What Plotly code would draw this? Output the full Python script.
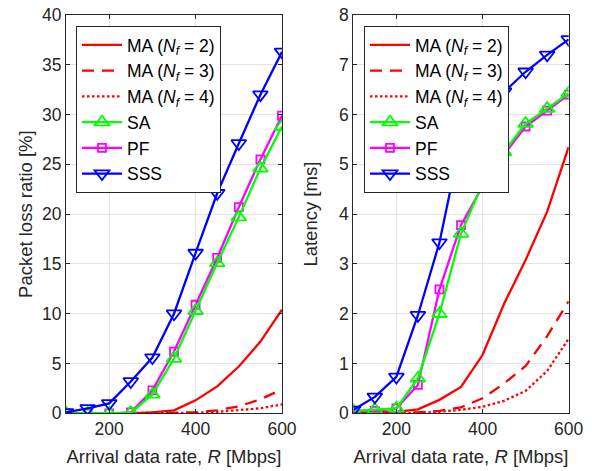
import plotly.graph_objects as go

# ---------------- data ----------------
R = [100, 150, 200, 250, 300, 350, 400, 450, 500, 550, 600]

# Packet loss ratio [%]
loss_ma2 = [0.0, 0.0, 0.0, 0.0, 0.1, 0.3, 1.3, 2.7, 4.7, 7.2, 10.4]
loss_ma3 = [0.0, 0.0, 0.0, 0.0, 0.0, 0.05, 0.1, 0.3, 0.7, 1.4, 2.4]
loss_ma4 = [0.0, 0.0, 0.0, 0.0, 0.0, 0.0, 0.05, 0.15, 0.3, 0.5, 0.9]
loss_sa = [0.0, 0.0, 0.0, 0.05, 1.9, 5.5, 10.3, 15.1, 19.7, 24.6, 28.8]
loss_pf = [0.0, 0.0, 0.0, 0.1, 2.3, 6.2, 10.9, 15.6, 20.7, 25.5, 29.9]
loss_sss = [0.1, 0.5, 1.0, 3.2, 5.6, 10.0, 16.1, 22.1, 27.1, 32.0, 36.3]

# Latency [ms]
lat_ma2 = [0.02, 0.02, 0.03, 0.08, 0.27, 0.53, 1.17, 2.2, 3.08, 4.05, 5.35]
lat_ma3 = [0.0, 0.0, 0.01, 0.02, 0.05, 0.12, 0.3, 0.6, 0.95, 1.55, 2.25]
lat_ma4 = [0.0, 0.0, 0.0, 0.01, 0.03, 0.07, 0.13, 0.25, 0.45, 0.85, 1.5]
lat_sa = [0.05, 0.07, 0.1, 0.7, 2.0, 3.61, 4.62, 5.25, 5.82, 6.12, 6.43]
lat_pf = [0.05, 0.05, 0.1, 0.57, 2.49, 3.78, 4.56, 5.2, 5.76, 6.08, 6.4]
lat_sss = [0.07, 0.33, 0.73, 1.97, 3.43, 5.5, 6.05, 6.46, 6.86, 7.2, 7.51]

names = ["MA (<i>N</i><sub><i>f</i></sub> = 2)", "MA (<i>N</i><sub><i>f</i></sub> = 3)",
         "MA (<i>N</i><sub><i>f</i></sub> = 4)", "SA", "PF", "SSS"]
x_ticks = [200, 400, 600]

RED, GREEN, MAG, BLUE = "#FF0000", "#00FF00", "#FF00FF", "#0000FF"
FONT = "Liberation Sans, Arial, sans-serif"
W, H = 592, 471


def px(x):
    return x / W


def py(y):
    return 1 - y / H


fig = go.Figure()


def add_panel(series, xa, ya, leg):
    ma2, ma3, ma4, sa, pf, sss = series
    specs = [
        (ma2, names[0], RED, "solid", None, 1),
        (ma3, names[1], RED, "12px,8px", None, 2),
        (ma4, names[2], RED, "2.5px,2.5px", None, 3),
        (pf, names[4], MAG, "solid", "square-open", 5),
        (sa, names[3], GREEN, "solid", "triangle-up-open", 4),
        (sss, names[5], BLUE, "solid", "triangle-down-open", 6),
    ]
    for y, nm, col, dash, sym, rank in specs:
        kw = dict(x=R, y=y, name=nm, xaxis=xa, yaxis=ya, legend=leg,
                  legendrank=rank, legendgroup=leg + nm,
                  line=dict(color=col, width=2.3, dash=dash))
        if sym:
            size = 8 if sym.startswith("square") else 13
            kw.update(mode="lines+markers",
                      marker=dict(symbol=sym, size=size, color=col,
                                  line=dict(color=col, width=1.8)))
        else:
            kw.update(mode="lines")
        fig.add_trace(go.Scatter(**kw))


add_panel([loss_ma2, loss_ma3, loss_ma4, loss_sa, loss_pf, loss_sss], "x", "y", "legend")
add_panel([lat_ma2, lat_ma3, lat_ma4, lat_sa, lat_pf, lat_sss], "x2", "y2", "legend2")

ydom = [py(413.3), py(15)]
axis_common = dict(showline=True, linecolor="#262626", linewidth=1, mirror="ticks",
                   ticks="inside", ticklen=4, tickcolor="#262626", automargin=False,
                   ticklabeloverflow="allow",
                   showgrid=True, gridcolor="#E3E3E3", gridwidth=1, zeroline=False,
                   tickfont=dict(family=FONT, size=17.5, color="#262626"),
                   title_font=dict(family=FONT, size=18.5, color="#262626"))

xtitle = "Arrival data rate, <i>R</i> [Mbps]"
fig.update_layout(
    width=W, height=H, margin=dict(l=0, r=0, t=0, b=0),
    paper_bgcolor="white", plot_bgcolor="white",
    font=dict(family=FONT, size=17.5, color="#262626"),
    xaxis=dict(domain=[px(66), px(282)], range=[100, 600], tickvals=x_ticks,
               title=dict(text=xtitle, standoff=11), anchor="y", **axis_common),
    yaxis=dict(domain=ydom, range=[0, 40], dtick=5,
               title=dict(text="Packet loss ratio [%]", standoff=4), anchor="x", **axis_common),
    xaxis2=dict(domain=[px(353.3), px(568.7)], range=[100, 600], tickvals=x_ticks,
                title=dict(text=xtitle, standoff=11), anchor="y2", **axis_common),
    yaxis2=dict(domain=ydom, range=[0, 8], dtick=1,
                title=dict(text="Latency [ms]", standoff=16), anchor="x2", **axis_common),
    showlegend=True,
)

leg_common = dict(bgcolor="white", bordercolor="#262626", borderwidth=1,
                  font=dict(family=FONT, size=17.5, color="black"),
                  xanchor="left", yanchor="top", tracegroupgap=0,
                  itemwidth=40, traceorder="normal")
fig.update_layout(
    legend=dict(x=px(76), y=py(26), **leg_common),
    legend2=dict(x=px(364), y=py(26), **leg_common),
)

fig.write_html("out.html",
               config={"displayModeBar": False},
               post_script="document.body.style.margin='0px';document.body.style.overflow='hidden';")
